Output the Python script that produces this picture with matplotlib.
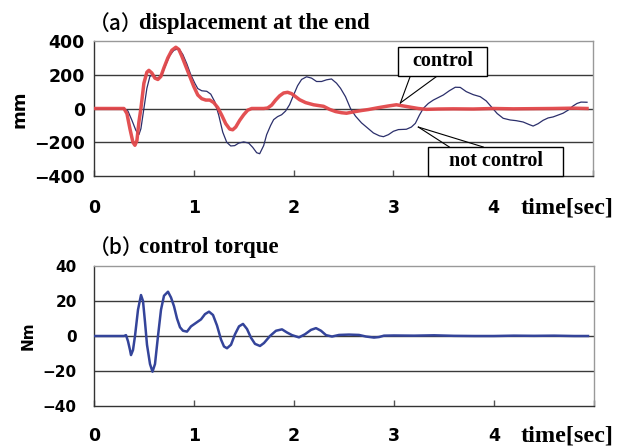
import matplotlib
matplotlib.use("Agg")
import matplotlib.pyplot as plt
from matplotlib.patches import Rectangle

# ---------------- data ----------------
t_ctrl = [0.00, 0.30, 0.33, 0.36, 0.39, 0.41, 0.43, 0.45, 0.47, 0.50, 0.53, 0.55, 0.58, 0.61,
          0.64, 0.67, 0.70, 0.74, 0.78, 0.82, 0.85, 0.88, 0.92, 0.96, 1.00, 1.04, 1.08, 1.12,
          1.16, 1.20, 1.24, 1.28, 1.32, 1.36, 1.39, 1.42, 1.46, 1.50, 1.54, 1.58, 1.62, 1.70,
          1.74, 1.78, 1.82, 1.86, 1.90, 1.94, 1.98, 2.02, 2.06, 2.12, 2.20, 2.30, 2.36, 2.42,
          2.48, 2.53, 2.60, 2.68, 2.75, 2.85, 2.95, 3.03, 3.10, 3.17, 3.25, 3.33, 3.45, 3.60,
          3.80, 4.00, 4.20, 4.40, 4.60, 4.80, 4.94]
mm_ctrl = [0, 0, -30, -120, -200, -218, -190, -80, 0, 150, 215, 226, 210, 180,
           172, 190, 240, 300, 345, 363, 350, 310, 250, 190, 130, 80, 58, 50,
           50, 35, 5, -40, -90, -122, -126, -110, -70, -37, -10, 0, 0, 0,
           3, 20, 50, 75, 92, 96, 88, 70, 52, 35, 22, 13, -5, -18,
           -25, -28, -20, -12, -6, 5, 15, 22, 15, 8, 0, -5, -3, -2,
           -3, 0, -2, -1, 0, 2, 0]

t_free = [0.00, 0.30, 0.34, 0.38, 0.42, 0.45, 0.47, 0.50, 0.53, 0.56, 0.59, 0.62, 0.65, 0.68,
          0.72, 0.76, 0.80, 0.85, 0.89, 0.93, 0.97, 1.01, 1.04, 1.08, 1.13, 1.17, 1.21, 1.25,
          1.29, 1.33, 1.37, 1.41, 1.45, 1.50, 1.55, 1.59, 1.63, 1.66, 1.70, 1.73, 1.77, 1.80,
          1.84, 1.88, 1.92, 1.96, 2.00, 2.04, 2.08, 2.13, 2.18, 2.23, 2.28, 2.33, 2.38, 2.43,
          2.47, 2.52, 2.57, 2.62, 2.68, 2.73, 2.80, 2.86, 2.90, 2.95, 3.00, 3.05, 3.13, 3.18,
          3.22, 3.26, 3.30, 3.35, 3.40, 3.50, 3.56, 3.62, 3.67, 3.73, 3.80, 3.87, 3.93, 3.98,
          4.04, 4.10, 4.17, 4.23, 4.30, 4.36, 4.40, 4.45, 4.50, 4.55, 4.60, 4.65, 4.70, 4.75,
          4.80, 4.84, 4.88, 4.94]
mm_free = [0, 0, -15, -70, -130, -155, -120, 0, 120, 190, 200, 182, 180, 200,
           260, 315, 345, 355, 320, 265, 200, 150, 118, 105, 102, 85, 40, -40,
           -140, -200, -222, -220, -205, -198, -205, -230, -262, -268, -220, -155, -100, -66,
           -48, -37, -15, 23, 80, 135, 172, 188, 180, 160, 160, 170, 175, 150,
           120, 70, 0, -45, -85, -110, -145, -162, -167, -155, -135, -125, -123, -110,
           -88, -40, 1, 30, 50, 80, 105, 126, 125, 100, 82, 70, 45, 11,
           -30, -58, -68, -72, -80, -95, -104, -90, -70, -56, -50, -39, -28, -10,
           15, 30, 38, 37]

t_torque = [0.00, 0.30, 0.32, 0.34, 0.36, 0.37, 0.39, 0.41, 0.44, 0.47, 0.49, 0.51, 0.53, 0.56,
            0.585, 0.61, 0.64, 0.67, 0.70, 0.74, 0.77, 0.80, 0.83, 0.86, 0.89, 0.93, 0.97, 1.02,
            1.07, 1.11, 1.15, 1.19, 1.23, 1.27, 1.30, 1.33, 1.37, 1.41, 1.45, 1.49, 1.53, 1.57,
            1.61, 1.66, 1.70, 1.76, 1.82, 1.88, 1.93, 1.98, 2.05, 2.11, 2.17, 2.22, 2.27, 2.32,
            2.38, 2.45, 2.55, 2.65, 2.72, 2.80, 2.85, 2.90, 3.00, 3.20, 3.40, 3.60, 3.80, 4.00,
            4.20, 4.40, 4.60, 4.80, 4.94]
nm_torque = [0, 0, 0.5, -3, -8, -10.9, -8, 0, 15, 23.4, 20, 8, -5, -16,
             -20.4, -16, 0, 15, 23, 25.3, 22, 17, 10, 5, 3, 2.5, 5.5, 7.5,
             9.5, 12.5, 13.9, 12, 6, -2, -6, -7, -5, 1, 5.5, 6.9, 4, -1,
             -4.5, -5.7, -4, 0, 3, 3.8, 2, 0.5, -0.8, 1, 3.5, 4.5, 3, 0.5,
             -0.3, 0.6, 0.8, 0.6, -0.3, -0.9, -0.6, 0.2, 0.3, 0.2, 0.4, 0.1, 0, 0,
             0.2, 0.1, 0.2, 0, 0]

x_ticks = [0, 1, 2, 3, 4]
x_ticklabels = ["0", "1", "2", "3", "4"]
top_yticks = [-400, -200, 0, 200, 400]
bot_yticks = [-40, -20, 0, 20, 40]

# ---------------- figure ----------------
W, H = 624, 446
fig = plt.figure(figsize=(W / 100, H / 100), dpi=100)
fig.patch.set_facecolor("white")

def px_axes(l, t, r, b):
    return fig.add_axes([l / W, 1 - b / H, (r - l) / W, (b - t) / H])

ax1 = px_axes(94, 41, 593, 176)
ax2 = px_axes(94, 266, 594, 406)

serif_bold = dict(family="Liberation Serif", weight="bold")

def style(ax, yticks, ylim, ysize, ypad, xpad):
    ax.set_xlim(0, 5)
    ax.set_ylim(*ylim)
    ax.set_yticks(yticks)
    ax.set_xticks(x_ticks + [5])
    ax.set_xticklabels(x_ticklabels + [""])
    for lab in ax.get_xticklabels():
        lab.set_fontfamily("DejaVu Sans")
        lab.set_fontweight("bold")
        lab.set_fontsize(12.5)
    for lab in ax.get_yticklabels():
        lab.set_fontfamily("DejaVu Sans")
        lab.set_fontweight("bold")
        lab.set_fontsize(ysize)
    ax.tick_params(axis="x", direction="in", length=4, width=1, color="#555555", pad=xpad)
    ax.tick_params(axis="y", length=0, pad=ypad)
    for g in yticks[1:-1]:
        ax.axhline(g, color="#3a3a3a", lw=1.0, zorder=1)
    ax.spines["left"].set_color("#333333")
    ax.spines["bottom"].set_color("#333333")
    ax.spines["top"].set_color("#999999")
    ax.spines["right"].set_color("#999999")
    for s in ax.spines.values():
        s.set_linewidth(1.0)

style(ax1, top_yticks, (-400, 400), 12.5, 6.5, 16.5)
style(ax2, bot_yticks, (-40, 40), 11, 12.5, 15)

ax1.plot(t_free, mm_free, color="#2b2f6b", lw=0.9, zorder=3)
ax1.plot(t_ctrl, mm_ctrl, color="#e2474a", lw=2.5, zorder=4, alpha=0.95)
ax2.plot(t_torque, nm_torque, color="#34449a", lw=1.8, zorder=3)

# y labels placed in figure pixels
fig.text(20 / W, 1 - 109 / H, "mm", rotation=90, ha="center", va="center",
         fontsize=13, family="DejaVu Sans", weight="bold")
fig.text(28 / W, 1 - 336 / H, "Nm", rotation=90, ha="center", va="center",
         fontsize=11, family="DejaVu Sans", weight="bold")

# callout boxes
def callout(ax, box, text, tip, bases, size):
    x0, y0, x1, y1 = box
    for bx, by in bases:
        ax.plot([bx, tip[0]], [by, tip[1]], color="black", lw=0.8, zorder=5, clip_on=False)
    ax.add_patch(Rectangle((x0, y0), x1 - x0, y1 - y0, facecolor="white",
                           edgecolor="black", lw=1.0, zorder=6, clip_on=False))
    ax.text((x0 + x1) / 2, (y0 + y1) / 2, text, ha="center", va="center",
            fontsize=size, zorder=7, **serif_bold)

callout(ax1, (3.05, 193, 3.94, 365), "control", (3.07, 33), [(3.17, 193), (3.44, 193)], 14.5)
callout(ax1, (3.35, -400, 4.70, -228), "not control", (3.25, -110), [(3.56, -228), (3.90, -228)], 14.5)

# titles
def ftext(x, y, s, **kw):
    fig.text(x / W, 1 - y / H, s, va="center", ha="left", **kw)

ftext(89, 24, "（a）", fontsize=15, weight="medium", family=["Noto Sans CJK JP", "DejaVu Sans"])
ftext(139, 24, "displacement at the end", fontsize=16.5, **serif_bold)
ftext(89, 248, "（b）", fontsize=15, weight="medium", family=["Noto Sans CJK JP", "DejaVu Sans"])
ftext(139, 248, "control torque", fontsize=16.5, **serif_bold)

ftext(521, 208, "time[sec]", fontsize=17.5, **serif_bold)
ftext(521, 436, "time[sec]", fontsize=17.5, **serif_bold)

fig.savefig("out.png", dpi=100, facecolor="white")
